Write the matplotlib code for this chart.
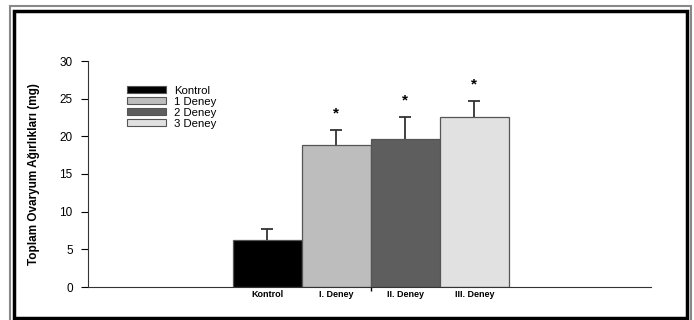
import matplotlib
matplotlib.use("Agg")
import matplotlib.pyplot as plt
from matplotlib.patches import Rectangle, Patch

plt.rcParams['font.family'] = ['Liberation Sans', 'DejaVu Sans']

groups = ['Kontrol', 'I. Deney', 'II. Deney', 'III. Deney']
legend_labels = ['Kontrol', '1 Deney', '2 Deney', '3 Deney']
means = [6.3, 18.8, 19.7, 22.6]
errors = [1.4, 2.1, 2.9, 2.1]
stars = ['', '*', '*', '*']
colors = ['#000000', '#bdbdbd', '#5e5e5e', '#e1e1e1']

fig = plt.figure(figsize=(6.94, 3.2), dpi=100)
ax = fig.add_axes([88 / 694, 1 - 287 / 320, (651 - 88) / 694, (287 - 61) / 320])

x = list(range(len(groups)))
ax.bar(x, means, width=1.0, color=colors, edgecolor='#555555', linewidth=0.9, zorder=2)
eb = ax.errorbar(x, means, yerr=[[0] * len(errors), errors], fmt='none', ecolor='#333333',
                 elinewidth=1.3, capsize=4, capthick=1.3, zorder=1)
eb[1][0].set_visible(False)  # no cap at the bar top
for xi, m, e, s in zip(x, means, errors, stars):
    if s:
        ax.text(xi, m + e + 1.2, s, ha='center', va='bottom', fontsize=11, fontweight='bold')

ax.set_xlim(-2.6, 5.56)
ax.set_ylim(0, 30)
ax.set_yticks([0, 5, 10, 15, 20, 25, 30])
ax.tick_params(axis='y', direction='out', length=5, width=0.8, labelsize=8.5, pad=6)
ax.set_xticks(x)
ax.set_xticklabels(groups, fontsize=6.5, fontweight='bold')
ax.tick_params(axis='x', length=0, pad=2)
ax.set_xticks([1.5], minor=True)
ax.tick_params(axis='x', which='minor', direction='out', length=3, width=1)

for sp in ['top', 'right']:
    ax.spines[sp].set_visible(False)
for sp in ['left', 'bottom']:
    ax.spines[sp].set_linewidth(0.8)
    ax.spines[sp].set_color('#333333')

ax.set_ylabel('Toplam Ovaryum Ağırlıkları (mg)', fontsize=8.5, fontweight='bold',
              family=['Liberation Sans Narrow', 'Liberation Sans', 'DejaVu Sans'], labelpad=14)

handles = [Patch(facecolor=c, edgecolor='#555555', linewidth=0.8) for c in colors]
ax.legend(handles, legend_labels, loc='upper left', bbox_to_anchor=(0.06, 0.915),
          frameon=False, fontsize=8.2, handlelength=3.4, handleheight=0.55,
          labelspacing=0.08, handletextpad=0.7, borderpad=0)

# double frame around the figure
fig.patches.append(Rectangle((10 / 694, -0.02), 681 / 694, 1 - 6.5 / 320 + 0.02,
                             transform=fig.transFigure, fill=False, edgecolor='#888888',
                             linewidth=1.5))
fig.patches.append(Rectangle((14 / 694, 2.5 / 320), 673 / 694, 1 - 13 / 320,
                             transform=fig.transFigure, fill=False, edgecolor='#000000',
                             linewidth=2.5))

fig.savefig('out.png', dpi=100)
